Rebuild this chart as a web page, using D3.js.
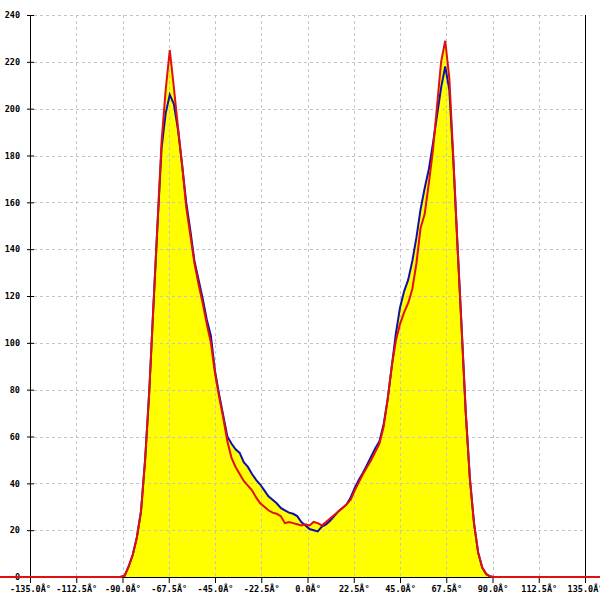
<!DOCTYPE html>
<html>
<head>
<meta charset="utf-8">
<script src="https://cdn.jsdelivr.net/npm/d3@7"></script>
<style>
  html, body { margin: 0; padding: 0; background: #fff; }
  svg { display: block; }
  text { font-family: "DejaVu Sans Mono", monospace; font-size: 8.5px; font-weight: bold; fill: #000; }
</style>
</head>
<body>
<svg id="chart" width="600" height="600"></svg>
<script>
// Angles (degrees) at which the two series were read
const angles = [-150, -91, -89, -87, -85, -83, -81, -79, -77, -75, -73, -71, -69, -67, -65, -63, -61, -59, -57, -55, -53, -51,
  -49, -47, -45, -43, -41, -39, -37, -35, -33, -31, -29, -27, -25, -23, -21, -19, -17, -15, -13, -11, -9, -7, -5, -3, -1,
  1, 3, 5, 7, 9, 11, 13, 15, 17, 19, 21, 23, 25, 27, 29, 31, 33, 35, 37, 39, 41, 43, 45, 47, 49, 51, 53, 55, 57, 59,
  61, 63, 65, 67, 69, 71, 73, 75, 77, 79, 81, 83, 85, 87, 89, 91, 145];

const blueValues = [0, 0, 0.5, 4.5, 9.5, 17, 28, 50, 79, 115, 150, 183, 198, 206, 202, 191, 176, 160, 148, 135, 127, 119,
  110, 103, 88, 78, 69, 60, 57, 54.5, 53, 49, 47, 44, 41.5, 39.5, 37, 34.5, 33, 31.5, 29.5, 28.5, 27.5, 27, 26, 23.5, 22,
  20.5, 20, 19.5, 21.5, 22.5, 24, 26, 28, 29.5, 31, 34, 38, 41.5, 44.5, 48, 51.5, 55, 58, 65, 76, 90, 104, 115, 122, 127, 135, 145, 157, 166, 174,
  185, 197, 209, 218, 208, 177, 141, 106, 70, 42, 23, 10.5, 4, 1.2, 0.2, 0, 0];

const redValues = [0, 0, 0.5, 4.5, 9.5, 17, 28, 50, 79, 115, 150, 186, 208, 225, 209, 192, 176, 158, 146, 134, 125, 117,
  108, 100, 87, 77, 68, 58, 51, 47, 44, 41, 39, 37, 34, 31.5, 30, 28.5, 27.5, 27, 26, 23, 23.5, 23, 22.5, 22, 22.5,
  22, 23.5, 23, 22, 23.5, 25, 26.5, 28, 29.5, 31, 33, 37, 40.5, 44, 47, 50, 53.5, 57, 64, 76, 90, 101, 108, 113, 117, 123, 134, 149, 155, 168,
  182, 201, 220, 229, 213, 178, 141, 106, 70, 42, 23, 10.5, 4, 1.2, 0.2, 0, 0];

const xTicks = [-135, -112.5, -90, -67.5, -45, -22.5, 0, 22.5, 45, 67.5, 90, 112.5, 135];
const yTicks = [0, 20, 40, 60, 80, 100, 120, 140, 160, 180, 200, 220, 240];

const svg = d3.select("#chart");
const x = d3.scaleLinear().domain([-135, 135]).range([30, 585]);
const y = d3.scaleLinear().domain([0, 240]).range([577, 15]);

const blue = angles.map((a, i) => ({ a, v: blueValues[i] }));
const red = angles.map((a, i) => ({ a, v: redValues[i] }));

const area = d3.area().x(d => x(d.a)).y0(y(0)).y1(d => y(d.v));
const line = d3.line().x(d => x(d.a)).y(d => y(d.v));

// yellow fills under both series
svg.append("path").datum(blue).attr("d", area).attr("fill", "#ffff00");
svg.append("path").datum(red).attr("d", area).attr("fill", "#ffff00");

// grid
const grid = svg.append("g").attr("stroke", "#c4c4c4").attr("stroke-width", 1).attr("stroke-dasharray", "3,3");
grid.selectAll("line.v").data(xTicks.slice(1, -1)).join("line")
  .attr("x1", d => Math.round(x(d)) + 0.5).attr("x2", d => Math.round(x(d)) + 0.5)
  .attr("y1", y(240)).attr("y2", y(0));
grid.selectAll("line.h").data(yTicks.slice(1)).join("line")
  .attr("x1", x(-135) + 4).attr("x2", x(135))
  .attr("y1", d => Math.round(y(d)) + 0.5).attr("y2", d => Math.round(y(d)) + 0.5);

// axes
const xAxis = d3.axisBottom(x).tickValues(xTicks).tickSize(6).tickPadding(3)
  .tickFormat(d => d.toFixed(1) + "Â°");
const gx = svg.append("g").attr("transform", `translate(0,${y(0)})`).call(xAxis);
gx.select(".domain").attr("stroke", "#000");
gx.selectAll(".tick line").attr("stroke", "#000");
gx.selectAll("text").attr("fill", "#000").style("font-family", "'DejaVu Sans Mono', monospace")
  .style("font-size", "8.5px").style("font-weight", "bold");

const yAxis = d3.axisLeft(y).tickValues(yTicks).tickSize(3).tickPadding(7);
const gy = svg.append("g").attr("transform", `translate(${x(-135)},0)`).call(yAxis);
gy.select(".domain").attr("stroke", "#000");
gy.selectAll(".tick line").attr("stroke", "#000").attr("x2", 4).attr("x1", -3);
gy.selectAll("text").attr("fill", "#000").style("font-family", "'DejaVu Sans Mono', monospace")
  .style("font-size", "8.5px").style("font-weight", "bold");

// right border
svg.append("line").attr("x1", x(135) + 0.5).attr("x2", x(135) + 0.5).attr("y1", y(240)).attr("y2", y(0))
  .attr("stroke", "#000").attr("stroke-width", 1);

// series lines
svg.append("path").datum(blue).attr("d", line).attr("fill", "none").attr("stroke", "#1010a8").attr("stroke-width", 2);
svg.append("path").datum(red).attr("d", line).attr("fill", "none").attr("stroke", "#e01010").attr("stroke-width", 2);
</script>
</body>
</html>
